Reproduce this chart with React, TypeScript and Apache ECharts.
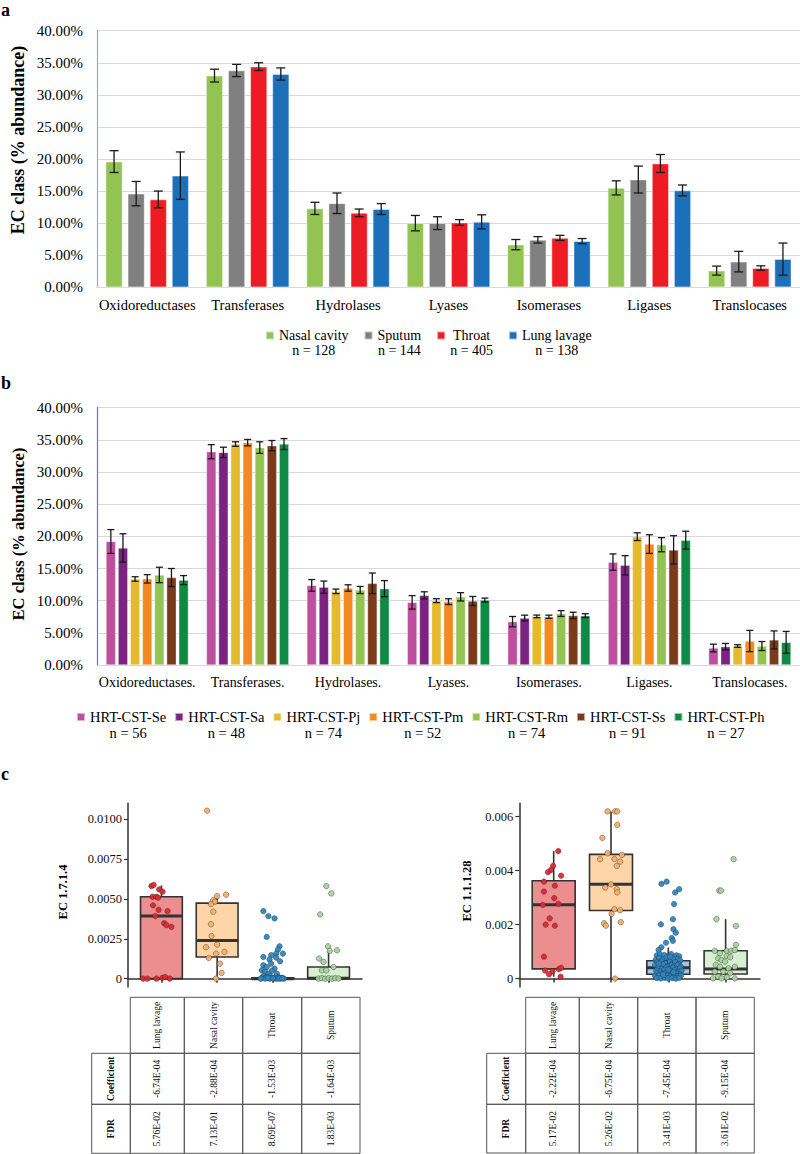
import React, { useEffect, useRef } from 'react';
import * as echarts from 'echarts';

const FONT = '"Liberation Serif", "Times New Roman", serif';

// ---------- Panel a ----------
const ecClassesA = ['Oxidoreductases', 'Transferases', 'Hydrolases', 'Lyases', 'Isomerases', 'Ligases', 'Translocases'];
const sitesA = ['Nasal cavity', 'Sputum', 'Throat', 'Lung lavage'];
const sitesACounts = [128, 144, 405, 138];
const sitesAColors = ['#93C353', '#808080', '#ED1C24', '#1C70BA'];
const nasalMean = [19.6, 33.0, 12.3, 10.0, 6.65, 15.5, 2.6];
const nasalErr = [1.7, 1.0, 0.95, 1.2, 0.8, 1.1, 0.7];
const sputumMean = [14.6, 33.8, 13.1, 10.0, 7.4, 16.8, 4.0];
const sputumErr = [1.9, 0.95, 1.6, 1.0, 0.5, 2.1, 1.6];
const throatMean = [13.7, 34.4, 11.6, 10.1, 7.7, 19.3, 3.0];
const throatErr = [1.3, 0.6, 0.6, 0.45, 0.4, 1.4, 0.35];
const lungMean = [17.4, 33.25, 12.2, 10.2, 7.2, 15.1, 4.4];
const lungErr = [3.7, 0.95, 0.85, 1.1, 0.4, 0.85, 2.5];
const meansA = [nasalMean, sputumMean, throatMean, lungMean];
const errsA = [nasalErr, sputumErr, throatErr, lungErr];

// ---------- Panel b ----------
const ecClassesB = ['Oxidoreductases.', 'Transferases.', 'Hydrolases.', 'Lyases.', 'Isomerases.', 'Ligases.', 'Translocases.'];
const clustersB = ['HRT-CST-Se', 'HRT-CST-Sa', 'HRT-CST-Pj', 'HRT-CST-Pm', 'HRT-CST-Rm', 'HRT-CST-Ss', 'HRT-CST-Ph'];
const clustersBCounts = [56, 48, 74, 52, 74, 91, 27];
const clustersBColors = ['#BC4F9E', '#7A2380', '#E6BA2F', '#F38A21', '#93C353', '#7B3A19', '#0F8A45'];
const seMean = [19.2, 33.16, 12.38, 9.74, 6.74, 16.0, 2.64];
const seErr = [1.85, 1.1, 0.9, 1.05, 0.8, 1.27, 0.6];
const saMean = [18.2, 33.06, 12.1, 10.83, 7.3, 15.5, 2.85];
const saErr = [2.2, 0.8, 0.95, 0.55, 0.45, 1.5, 0.5];
const pjMean = [13.37, 34.35, 11.45, 10.0, 7.56, 19.95, 2.95];
const pjErr = [0.35, 0.35, 0.35, 0.3, 0.2, 0.6, 0.2];
const pmMean = [13.4, 34.56, 11.97, 9.85, 7.5, 18.8, 3.73];
const pmErr = [0.65, 0.5, 0.5, 0.45, 0.25, 1.45, 1.65];
const rmMean = [14.0, 33.8, 11.66, 10.6, 8.0, 18.7, 2.95];
const rmErr = [1.2, 0.9, 0.55, 0.65, 0.45, 1.1, 0.7];
const ssMean = [13.6, 34.1, 12.7, 9.95, 7.7, 17.9, 3.9];
const ssErr = [1.4, 0.8, 1.6, 0.7, 0.5, 2.2, 1.4];
const phMean = [13.2, 34.35, 11.87, 10.1, 7.67, 19.4, 3.52];
const phErr = [0.7, 0.85, 1.25, 0.3, 0.3, 1.4, 1.7];
const meansB = [seMean, saMean, pjMean, pmMean, rmMean, ssMean, phMean];
const errsB = [seErr, saErr, pjErr, pmErr, rmErr, ssErr, phErr];

// ---------- Panel c ----------
const groupsC = ['Lung lavage', 'Nasal cavity', 'Throat', 'Sputum'];
const boxFills = ['#EC8E8F', '#FDD5A7', '#9DC6E6', '#D9EFD3'];
const pointFills = ['#E2272C', '#F8AE68', '#2E86C1', '#A6D39D'];
const ticksC1 = [0, 0.0025, 0.005, 0.0075, 0.01];
const ticksC2 = [0, 0.002, 0.004, 0.006];
// box stats: [min, q1, median, q3, max]
const boxC1 = [
  [0, 0, 0.00393, 0.00514, 0.00585],
  [0, 0.00136, 0.00239, 0.00474, 0.00527],
  [0, 0, 0, 0.00005, 0.00008],
  [0, 0, 0.00003, 0.00073, 0.00178],
];
const boxC2 = [
  [0.00007, 0.00036, 0.00273, 0.00362, 0.00472],
  [0, 0.00252, 0.00349, 0.0046, 0.00619],
  [0, 0.00016, 0.0004, 0.00066, 0.00115],
  [0, 0.00017, 0.00036, 0.00103, 0.0022],
];
// jittered points: [x offset from group centre, value]
const ptsC1Lung = [[-0.18, 0.00581], [-0.14, 0.00588], [-0.04, 0.0056], [0.02, 0.00546], [-0.16, 0.00514], [-0.09, 0.00514], [-0.06, 0.00508], [-0.15, 0.0046], [-0.05, 0.00432], [0.11, 0.00424], [-0.11, 0.00393], [0.05, 0.00348], [0.09, 0.00336], [0.18, 0.00325], [-0.33, 0], [-0.25, 0], [-0.09, 0], [0.02, 0.00006], [0.07, 0.0001], [0.15, 0]];
const ptsC1Nasal = [[-0.18, 0.01054], [0.16, 0.00527], [0.0, 0.00518], [-0.07, 0.00493], [-0.04, 0.00483], [-0.11, 0.00468], [-0.07, 0.0042], [-0.11, 0.00342], [-0.1, 0.00267], [0.0, 0.00214], [-0.2, 0.00197], [-0.02, 0.00157], [0.13, 0.00168], [-0.15, 0.0013], [0.05, 0.00094], [0.08, 0.00036], [-0.02, 0]];
const ptsC1Throat = [[-0.17, 0.00424], [-0.08, 0.00392], [0.03, 0.00378], [-0.11, 0.00262], [0.12, 0.00203], [0.09, 0.00182], [0.18, 0.00157], [0.06, 0.00157], [-0.03, 0.00147], [-0.17, 0.00136], [-0.06, 0.0012], [0.06, 0.00132], [0.13, 0.00109], [-0.17, 0.00084], [-0.11, 0.00073], [-0.03, 0.00094], [0.03, 0.00063], [-0.2, 0.00052], [-0.14, 0.00042], [-0.02, 0.00048], [-0.08, 0.00031], [0.07, 0.00031], [-0.17, 0.00015], [-0.11, 0.0001], [-0.05, 0.00015], [0.01, 0.00006], [0.1, 0.0001], [0.16, 0.00006], [-0.2, 0.00003], [-0.14, 0], [0.04, 0], [0.13, 0], [-0.22, 0], [-0.05, 0], [0.08, 0], [0.2, 0], [0.0, 0.00002], [0.12, 0.00002], [-0.09, 0.00004], [0.17, 0.00001]];
const ptsC1Sputum = [[-0.04, 0.00581], [0.05, 0.00535], [-0.15, 0.00403], [-0.01, 0.00203], [0.02, 0.00174], [0.15, 0.00178], [-0.17, 0.00126], [-0.09, 0.00105], [0.09, 0.00073], [-0.12, 0.00052], [-0.04, 0.00052], [-0.18, 0], [-0.12, 0.00003], [-0.06, 0], [0.0, 0.00002], [0.06, 0], [0.12, 0.00003], [0.18, 0.00001]];
const ptsC2Lung = [[0.08, 0.00472], [-0.01, 0.00417], [-0.05, 0.00402], [-0.1, 0.00394], [0.13, 0.00381], [-0.17, 0.00359], [0.02, 0.00344], [-0.17, 0.00322], [0.01, 0.00298], [-0.19, 0.00273], [0.08, 0.00277], [-0.07, 0.00223], [-0.14, 0.002], [0.02, 0.00196], [-0.17, 0.00081], [-0.15, 0.0003], [-0.02, 0.00027], [-0.08, 0.00016], [0.09, 0.00035], [0.12, 0.00007], [0.13, 0.0004]];
const ptsC2Nasal = [[-0.06, 0.00619], [0.07, 0.00619], [0.11, 0.00619], [0.11, 0.00569], [-0.15, 0.00521], [-0.19, 0.00442], [-0.06, 0.00464], [0.06, 0.00443], [0.19, 0.00458], [0.16, 0.00433], [0.1, 0.00417], [0.0, 0.00349], [-0.1, 0.00337], [0.1, 0.00331], [0.11, 0.00319], [0.06, 0.00257], [0.16, 0.00253], [0.01, 0.0024], [-0.12, 0.00205], [-0.09, 0.00196], [0.17, 0.00209], [0.07, 0]];
const ptsC2Throat = [[-0.12, 0.00351], [-0.03, 0.00359], [0.12, 0.00319], [0.19, 0.00331], [0.1, 0.00276], [-0.13, 0.00201], [0.08, 0.0022], [0.09, 0.00183], [0.13, 0.0017], [0.06, 0.0015], [0.08, 0.0014], [-0.04, 0.00133], [-0.12, 0.00116], [-0.17, 0.00106],
  [-0.2, 0.00086], [-0.14, 0.0009], [-0.07, 0.00087], [0.01, 0.00085], [0.05, 0.00091], [0.14, 0.00086], [0.19, 0.00083],
  [-0.22, 0.0007], [-0.16, 0.00076], [-0.1, 0.00071], [-0.03, 0.00079], [0.02, 0.00069], [0.09, 0.00074], [0.17, 0.00072], [0.21, 0.00067],
  [-0.19, 0.00061], [-0.12, 0.00063], [-0.05, 0.00057], [0.03, 0.00064], [0.07, 0.00056], [0.12, 0.00061], [0.18, 0.00054],
  [-0.23, 0.00051], [-0.15, 0.00047], [-0.09, 0.00053], [-0.01, 0.00046], [0.06, 0.0005], [0.1, 0.00045], [0.16, 0.00049], [0.22, 0.00044],
  [-0.18, 0.0004], [-0.11, 0.00037], [-0.04, 0.00042], [0.02, 0.00036], [0.08, 0.0004], [0.15, 0.00035], [0.2, 0.00038],
  [-0.21, 0.0003], [-0.14, 0.00027], [-0.07, 0.00032], [0.0, 0.00026], [0.05, 0.00029], [0.11, 0.00031], [0.18, 0.00025], [0.23, 0.00029],
  [-0.2, 0.0002], [-0.12, 0.00018], [-0.05, 0.00021], [0.01, 0.00019], [0.08, 0.00017], [0.14, 0.0002], [0.2, 0.00015],
  [-0.23, 0.0001], [-0.16, 0.00012], [-0.09, 0.00009], [-0.02, 0.00011], [0.04, 0.00008], [0.11, 0.00012], [0.17, 0.00009], [0.22, 0.00011],
  [-0.2, 0.00002], [-0.13, 0.00001], [-0.06, 0.00003], [0.0, 0.00001], [0.07, 0.00002], [0.13, 0.0], [0.19, 0.00003],
  [-0.17, 0.00055], [0.0, 0.00033], [-0.09, 0.00015], [0.09, 0.00024], [0.03, 0.00081]];
const ptsC2Sputum = [[0.14, 0.00442], [-0.11, 0.00326], [-0.08, 0.00326], [-0.16, 0.0022], [0.18, 0.00195], [0.18, 0.00125], [-0.19, 0.00103], [-0.1, 0.00094], [0.02, 0.00103], [0.1, 0.00103], [0.16, 0.00106], [0.02, 0.00084], [-0.13, 0.00075], [-0.07, 0.00069], [0.08, 0.00079], [-0.01, 0.00063], [-0.17, 0.00051], [-0.1, 0.00044], [0.05, 0.00038], [0.16, 0.00044], [-0.19, 0.00026], [-0.04, 0.00026], [0.08, 0.0002], [-0.13, 0.00007], [0.02, 0.00005], [0.16, 0.00001], [-0.22, 0.00001], [-0.07, 0.00001]];
const ptsC1 = [ptsC1Lung, ptsC1Nasal, ptsC1Throat, ptsC1Sputum];
const ptsC2 = [ptsC2Lung, ptsC2Nasal, ptsC2Throat, ptsC2Sputum];

const coefLeft = ['-6.74E-04', '-2.88E-04', '-1.53E-03', '-1.64E-03'];
const fdrLeft = ['5.76E-02', '7.13E-01', '8.69E-07', '1.83E-03'];
const coefRight = ['-2.22E-04', '-6.75E-04', '-7.45E-04', '-9.15E-04'];
const fdrRight = ['5.17E-02', '5.26E-02', '3.41E-03', '3.61E-02'];
const rowLabels = ['Coefficient', 'FDR'];

function errorBarSeries(means: number[][], errs: number[][], axisIdx: number, step: number, cap: number) {
  const data: number[][] = [];
  means.forEach((arr, s) => arr.forEach((v, i) => data.push([i, v, errs[s][i], s])));
  const n = means.length;
  return {
    type: 'custom', xAxisIndex: axisIdx, yAxisIndex: axisIdx, z: 10, silent: true,
    encode: { x: 0, y: 1 },
    data,
    renderItem: (params: any, api: any) => {
      const cat = api.value(0), v = api.value(1), e = api.value(2), s = api.value(3);
      const c = api.coord([cat, v]);
      const x = c[0] + (s - (n - 1) / 2) * step;
      const yt = api.coord([cat, v + e])[1];
      const yb = api.coord([cat, v - e])[1];
      const st = { stroke: '#1a1a1a', lineWidth: 1.3 };
      return {
        type: 'group', children: [
          { type: 'line', shape: { x1: x, y1: yt, x2: x, y2: yb }, style: st },
          { type: 'line', shape: { x1: x - cap / 2, y1: yt, x2: x + cap / 2, y2: yt }, style: st },
          { type: 'line', shape: { x1: x - cap / 2, y1: yb, x2: x + cap / 2, y2: yb }, style: st },
        ],
      };
    },
  };
}

function boxSeries(stats: number[][], axisIdx: number) {
  return {
    type: 'custom', xAxisIndex: axisIdx, yAxisIndex: axisIdx, z: 5, silent: true,
    encode: { x: 0, y: [1, 2, 3, 4, 5] },
    data: stats.map((s, i) => [i + 1, ...s]),
    renderItem: (params: any, api: any) => {
      const x = api.value(0);
      const cx = api.coord([x, api.value(1)])[0];
      const yMin = api.coord([x, api.value(1)])[1];
      const yQ1 = api.coord([x, api.value(2)])[1];
      const yMed = api.coord([x, api.value(3)])[1];
      const yQ3 = api.coord([x, api.value(4)])[1];
      const yMax = api.coord([x, api.value(5)])[1];
      const w = api.size([0.75, 0])[0];
      const st = { stroke: '#333', lineWidth: 1.6 };
      return {
        type: 'group', children: [
          { type: 'line', shape: { x1: cx, y1: yQ3, x2: cx, y2: yMax }, style: st },
          { type: 'line', shape: { x1: cx, y1: yQ1, x2: cx, y2: yMin }, style: st },
          { type: 'rect', shape: { x: cx - w / 2, y: yQ3, width: w, height: Math.max(yQ1 - yQ3, 0.5) }, style: { fill: boxFills[params.dataIndex], stroke: '#333', lineWidth: 1.6 } },
          { type: 'line', shape: { x1: cx - w / 2, y1: yMed, x2: cx + w / 2, y2: yMed }, style: { stroke: '#333', lineWidth: 3 } },
        ],
      };
    },
  };
}

function pointSeries(pts: number[][][], axisIdx: number) {
  return pts.map((arr, g) => ({
    type: 'scatter', xAxisIndex: axisIdx, yAxisIndex: axisIdx, z: 8, silent: true,
    symbolSize: 5.5,
    itemStyle: { color: pointFills[g], borderColor: 'rgba(40,40,40,0.7)', borderWidth: 0.6, opacity: 0.95 },
    data: arr.map(([dx, v]) => [g + 1 + dx, v]),
  }));
}

function tableGraphics(colX: number[], rowY: number[], heads: string[], coef: string[], fdr: string[]) {
  const els: any[] = [];
  const line = { stroke: '#555', lineWidth: 1 };
  for (let i = 0; i < 4; i++) {
    const x0 = colX[i + 1], x1 = colX[i + 2];
    els.push({ type: 'rect', shape: { x: x0, y: rowY[0], width: x1 - x0, height: rowY[1] - rowY[0] }, style: { fill: 'none', ...line } });
    els.push({ type: 'text', x: (x0 + x1) / 2, y: (rowY[0] + rowY[1]) / 2, rotation: Math.PI / 2, style: { text: heads[i], align: 'center', verticalAlign: 'middle', font: `9.5px ${FONT}`, fill: '#111' } });
  }
  const rows = [coef, fdr];
  for (let r = 0; r < 2; r++) {
    const y0 = rowY[r + 1], y1 = rowY[r + 2];
    els.push({ type: 'rect', shape: { x: colX[0], y: y0, width: colX[1] - colX[0], height: y1 - y0 }, style: { fill: 'none', ...line } });
    els.push({ type: 'text', x: (colX[0] + colX[1]) / 2, y: (y0 + y1) / 2, rotation: Math.PI / 2, style: { text: rowLabels[r], align: 'center', verticalAlign: 'middle', font: `bold 9.5px ${FONT}`, fill: '#111' } });
    for (let i = 0; i < 4; i++) {
      const x0 = colX[i + 1], x1 = colX[i + 2];
      els.push({ type: 'rect', shape: { x: x0, y: y0, width: x1 - x0, height: y1 - y0 }, style: { fill: 'none', ...line } });
      els.push({ type: 'text', x: (x0 + x1) / 2, y: (y0 + y1) / 2, rotation: Math.PI / 2, style: { text: rows[r][i], align: 'center', verticalAlign: 'middle', font: `9.5px ${FONT}`, fill: '#111' } });
    }
  }
  return els;
}

function legendFor(names: string[], counts: number[], left: number, top: number, gap: number, fs: number) {
  const lh = fs + 1;
  const map: Record<string, number> = {};
  names.forEach((n, i) => (map[n] = counts[i]));
  return {
    data: names, left, top, padding: 0, orient: 'horizontal', icon: 'rect',
    itemWidth: 8, itemHeight: 8, itemGap: gap, selectedMode: false,
    formatter: (name: string) => `{p| }\n{t|${name}}\n{n|n = ${map[name]}}`,
    textStyle: {
      color: '#000', fontFamily: FONT, fontSize: fs,
      rich: {
        p: { fontSize: fs, lineHeight: lh, fontFamily: FONT, align: 'center' },
        t: { fontSize: fs, lineHeight: lh, fontFamily: FONT, align: 'center', color: '#000' },
        n: { fontSize: fs, lineHeight: lh, fontFamily: FONT, align: 'center', color: '#000' },
      },
    },
  };
}

function barAxes(cats: string[], lineColor: string, labFs: number) {
  return {
    x: {
      type: 'category', data: cats,
      axisLine: { show: true, lineStyle: { color: '#D9D9D9', width: 1.2 } },
      axisTick: { show: false },
      axisLabel: { interval: 0, color: '#000', fontFamily: FONT, fontSize: labFs, margin: 10 },
    },
    y: {
      type: 'value', min: 0, max: 40, interval: 5,
      axisLine: { show: true, lineStyle: { color: lineColor, width: 1.2 } },
      axisTick: { show: false },
      splitLine: { lineStyle: { color: '#D9D9D9', width: 1.2 } },
      axisLabel: { color: '#000', fontFamily: FONT, fontSize: 15, margin: 14, formatter: (v: number) => v.toFixed(2) + '%' },
    },
  };
}

function boxAxes(min: number, max: number, ticks: number[], digits: number) {
  const axisLine = { show: true, lineStyle: { color: '#333', width: 1.5 } };
  return {
    x: {
      type: 'value', min: 0.4, max: 4.6,
      axisLine, splitLine: { show: false },
      axisTick: { show: true, customValues: [1, 2, 3, 4], length: 4, lineStyle: { color: '#333', width: 1.5 } },
      axisLabel: { show: false },
    },
    y: {
      type: 'value', min, max,
      axisLine, splitLine: { show: false },
      axisTick: { show: true, customValues: ticks, length: 4, lineStyle: { color: '#333', width: 1.2 } },
      axisLabel: { customValues: ticks, color: '#111', fontFamily: FONT, fontSize: 12.5, margin: 6, formatter: (v: number) => (v === 0 ? '0' : v.toFixed(digits)) },
    },
  };
}

export default function App() {
  const ref = useRef<HTMLDivElement>(null);
  useEffect(() => {
    if (!ref.current) return;
    const chart = echarts.init(ref.current, undefined, { renderer: 'svg' });
    const axA = barAxes(ecClassesA, '#8EA9DB', 14.5);
    const axB = barAxes(ecClassesB, '#4F7CC9', 14);
    const axC1 = boxAxes(-0.000525, 0.011025, ticksC1, 4);
    const axC2 = boxAxes(-0.00031, 0.0065, ticksC2, 3);

    const barsA = sitesA.map((name, s) => ({
      type: 'bar', name, xAxisIndex: 0, yAxisIndex: 0, barWidth: 17, barGap: '30%',
      itemStyle: { color: sitesAColors[s], borderColor: 'rgba(255,255,255,0.55)', borderWidth: 0.8 },
      data: meansA[s],
    }));
    const barsB = clustersB.map((name, s) => ({
      type: 'bar', name, xAxisIndex: 1, yAxisIndex: 1, barWidth: 9.7, barGap: '25%',
      itemStyle: { color: clustersBColors[s], borderColor: 'rgba(255,255,255,0.55)', borderWidth: 0.6 },
      data: meansB[s],
    }));

    const titleStyle = (fs: number) => ({ font: `bold ${fs}px ${FONT}`, fill: '#000', align: 'center', verticalAlign: 'middle' });

    chart.setOption({
      animation: false,
      textStyle: { fontFamily: FONT },
      grid: [
        { left: 97, top: 30.7, width: 703.5, height: 256.6 },
        { left: 97, top: 407.7, width: 703.5, height: 257.3 },
        { left: 128, top: 803, width: 234, height: 184 },
        { left: 519.3, top: 803, width: 240.7, height: 184 },
      ],
      xAxis: [{ ...axA.x, gridIndex: 0 }, { ...axB.x, gridIndex: 1 }, { ...axC1.x, gridIndex: 2 }, { ...axC2.x, gridIndex: 3 }],
      yAxis: [{ ...axA.y, gridIndex: 0 }, { ...axB.y, gridIndex: 1 }, { ...axC1.y, gridIndex: 2 }, { ...axC2.y, gridIndex: 3 }],
      legend: [
        legendFor(sitesA, sitesACounts, 265, 313.5, 15, 14),
        legendFor(clustersB, clustersBCounts, 76, 694, 8, 14.5),
      ],
      series: [
        ...barsA,
        errorBarSeries(meansA, errsA, 0, 17 * 1.3, 9),
        ...barsB,
        errorBarSeries(meansB, errsB, 1, 9.7 * 1.25, 7),
        boxSeries(boxC1, 2),
        ...pointSeries(ptsC1, 2),
        boxSeries(boxC2, 3),
        ...pointSeries(ptsC2, 3),
      ],
      graphic: [
        { type: 'text', x: 1, y: 10, style: { text: 'a', ...titleStyle(18), align: 'left' } },
        { type: 'text', x: 1, y: 383, style: { text: 'b', ...titleStyle(18), align: 'left' } },
        { type: 'text', x: 1, y: 774, style: { text: 'c', ...titleStyle(18), align: 'left' } },
        { type: 'text', x: 18, y: 140, rotation: Math.PI / 2, style: { text: 'EC class (% abundance)', ...titleStyle(18) } },
        { type: 'text', x: 18, y: 534, rotation: Math.PI / 2, style: { text: 'EC class (% abundance)', ...titleStyle(16.5) } },
        { type: 'text', x: 63, y: 892, rotation: Math.PI / 2, style: { text: 'EC 1.7.1.4', ...titleStyle(12.5) } },
        { type: 'text', x: 467, y: 891, rotation: Math.PI / 2, style: { text: 'EC 1.1.1.28', ...titleStyle(12.5) } },
        ...tableGraphics([91.7, 130.3, 184.3, 242.7, 301.7, 360], [997.3, 1053.3, 1104.3, 1153.3], groupsC, coefLeft, fdrLeft),
        ...tableGraphics([486.7, 525.7, 579.3, 637.7, 696, 754.3], [997.3, 1053.3, 1104.3, 1153], groupsC, coefRight, fdrRight),
      ],
    });
    return () => chart.dispose();
  }, []);
  return <div ref={ref} style={{ position: 'absolute', left: 0, top: 0, width: 800, height: 1154, background: '#fff' }} />;
}
